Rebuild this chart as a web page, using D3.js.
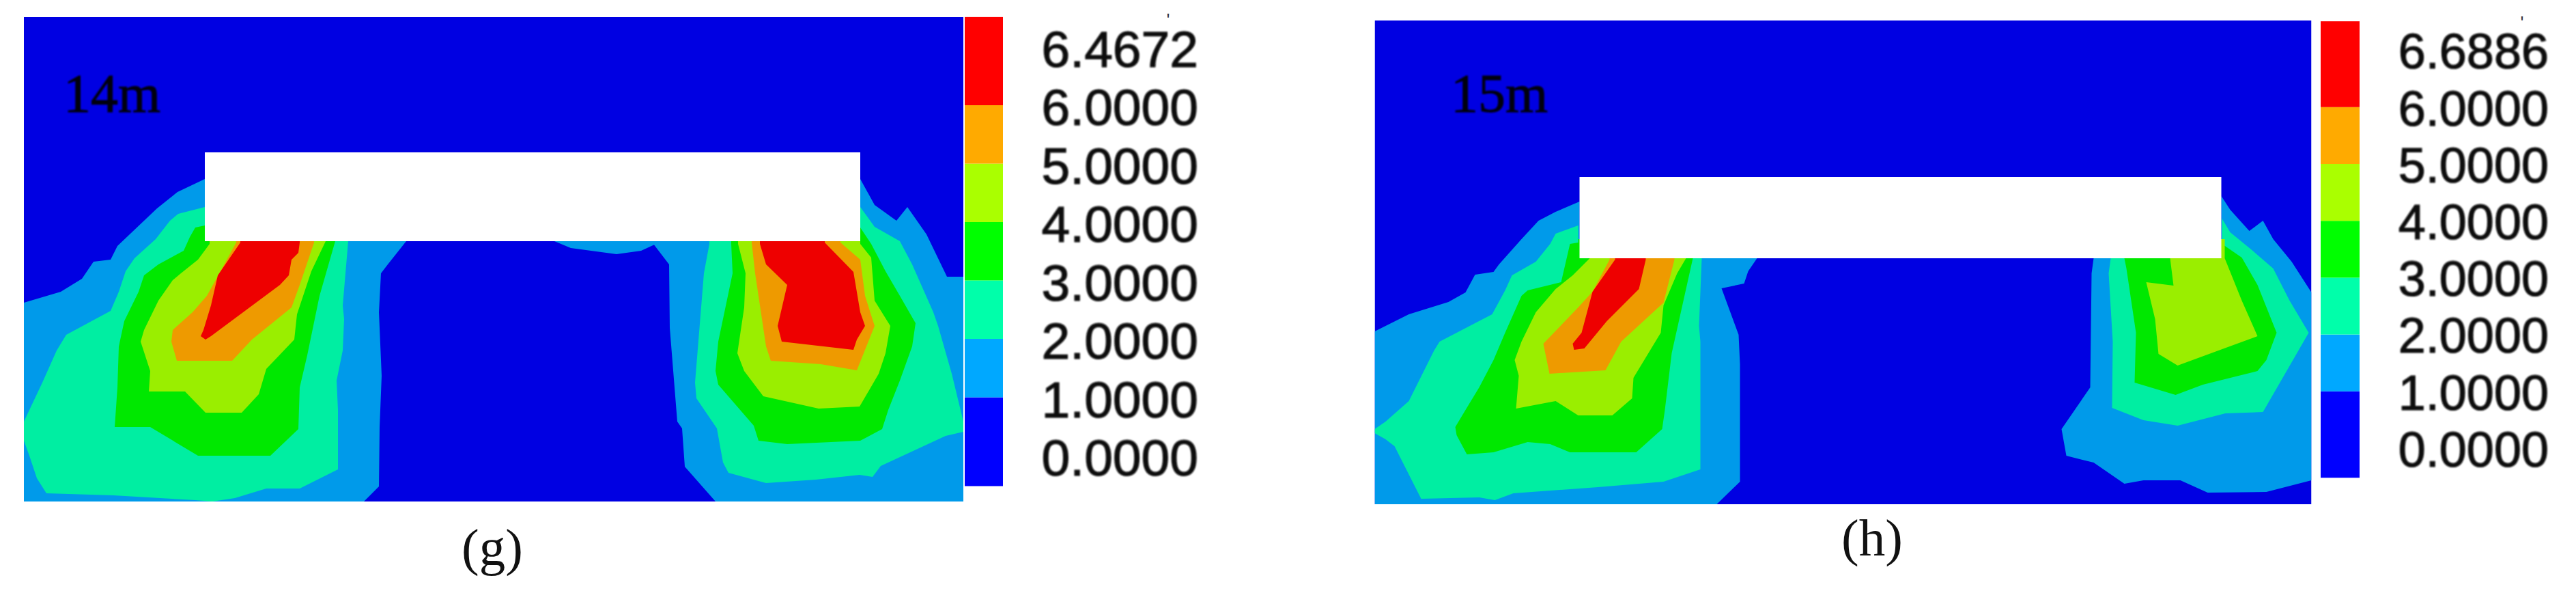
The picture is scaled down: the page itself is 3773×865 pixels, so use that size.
<!DOCTYPE html>
<html>
<head>
<meta charset="utf-8">
<script src="https://cdn.jsdelivr.net/npm/d3@7/dist/d3.min.js"></script>
<style>html,body{margin:0;padding:0;background:#fff}svg{display:block}</style>
</head>
<body>
<script>
// Contour level labels (each colour band sits between two labels)
const levels14 = ["0.0000","1.0000","2.0000","3.0000","4.0000","5.0000","6.0000","6.4672"];
const levels15 = ["0.0000","1.0000","2.0000","3.0000","4.0000","5.0000","6.0000","6.6886"];
const bandEdges = [-0.52,1,2,3,4,5,6,7.51];

// Contour regions, in panel grid units (x across, y down from the top of the panel)
const g14West1 = [[265,237],[225,256],[195,280],[137,335],[127,355],[102,358],[85,383],[54,402],[0,418],[0,709],[498,709],[520,687],[521,600],[524,525],[520,432],[523,375],[533,362],[560,328],[560,300],[265,300]];
const g14West2 = [[265,278],[226,288],[214,298],[193,325],[162,353],[149,372],[139,402],[127,430],[62,465],[48,488],[27,535],[0,592],[0,620],[8,642],[19,675],[33,697],[131,700],[251,707],[276,709],[309,704],[355,690],[404,690],[460,662],[460,575],[458,532],[467,488],[469,442],[467,422],[475,328],[475,300],[265,300]];
const g14West3 = [[265,305],[251,308],[243,322],[234,342],[197,362],[176,378],[168,402],[147,445],[139,482],[137,542],[133,600],[185,600],[255,642],[361,642],[402,603],[404,542],[415,495],[433,408],[456,328],[456,300],[265,300]];
const g14West4 = [[272,332],[255,355],[230,375],[218,385],[197,415],[176,458],[171,475],[185,518],[183,548],[236,548],[266,579],[319,579],[344,552],[355,515],[396,472],[400,435],[421,372],[442,328],[442,300],[272,300]];
const g14West5 = [[311,330],[288,372],[268,408],[247,432],[218,458],[216,475],[224,503],[305,503],[334,472],[392,425],[404,392],[425,330],[425,300],[311,300]];
const g14West6 = [[317,330],[284,378],[274,422],[263,458],[259,467],[266,472],[274,467],[375,392],[388,378],[392,355],[402,345],[404,330],[404,300],[317,300]];
const g14Mid1  = [[777,328],[801,338],[868,347],[904,342],[928,331],[928,320],[777,320]];
const g14East1 = [[1225,237],[1246,275],[1278,298],[1294,278],[1322,318],[1352,380],[1376,380],[1376,709],[1013,709],[968,658],[964,602],[957,592],[946,455],[945,362],[922,332],[922,300],[1225,300]];
const g14East2 = [[1225,278],[1246,307],[1283,328],[1301,362],[1332,432],[1339,452],[1359,522],[1376,592],[1376,607],[1350,613],[1255,657],[1243,673],[1224,670],[1160,677],[1087,682],[1032,667],[1024,652],[1015,602],[985,558],[983,535],[996,375],[1004,332],[1004,300],[1225,300]];
const g14East3 = [[1225,308],[1241,332],[1262,372],[1283,408],[1306,448],[1301,482],[1283,532],[1266,575],[1257,603],[1225,620],[1118,625],[1076,620],[1069,598],[1017,538],[1013,518],[1017,475],[1038,375],[1036,332],[1036,300],[1225,300]];
const g14East4 = [[1225,332],[1241,352],[1246,415],[1269,452],[1262,492],[1252,522],[1224,570],[1164,573],[1083,555],[1055,518],[1045,492],[1055,425],[1057,375],[1046,332],[1046,300],[1225,300]];
const g14East5 = [[1196,330],[1225,355],[1232,408],[1246,452],[1220,517],[1167,508],[1094,503],[1087,482],[1071,375],[1066,330],[1066,300],[1196,300]];
const g14East6 = [[1173,330],[1215,373],[1225,432],[1232,452],[1220,472],[1215,487],[1110,475],[1104,452],[1118,392],[1087,362],[1078,332],[1078,300],[1173,300]];

const h15West1 = [[300,265],[265,280],[240,293],[215,320],[182,357],[174,368],[147,372],[133,398],[108,412],[50,430],[16,447],[0,455],[0,708],[501,708],[535,675],[535,503],[533,460],[508,392],[541,385],[547,367],[560,348],[560,320],[300,320]];
const h15West2 = [[298,300],[265,312],[257,327],[236,353],[201,373],[191,395],[172,430],[95,470],[87,483],[50,557],[16,587],[0,598],[0,604],[16,613],[29,623],[68,700],[153,698],[176,702],[203,692],[327,683],[423,675],[477,657],[477,470],[475,447],[479,348],[479,320],[298,320]];
const h15West3 = [[298,325],[286,327],[280,353],[273,383],[224,395],[215,403],[191,457],[174,497],[153,537],[133,570],[118,595],[120,607],[135,635],[174,632],[224,617],[257,620],[286,632],[383,632],[421,598],[425,570],[435,487],[466,348],[466,320],[298,320]];
const h15West4 = [[315,348],[290,373],[265,393],[236,427],[215,470],[205,497],[211,520],[207,568],[265,557],[298,578],[348,578],[377,553],[379,523],[419,457],[423,417],[443,370],[456,348],[456,320],[315,320]];
const h15West5 = [[344,350],[319,397],[298,420],[247,473],[256,517],[338,512],[361,470],[423,413],[439,350],[439,320],[344,320]];
const h15West6 = [[352,350],[319,397],[303,457],[290,473],[292,482],[307,480],[340,440],[387,393],[397,350],[397,320],[352,320]];
const h15East1 = [[1240,257],[1253,277],[1281,308],[1301,293],[1316,320],[1343,353],[1372,398],[1372,673],[1306,690],[1220,691],[1180,673],[1126,673],[1098,678],[1053,647],[1013,637],[1006,598],[1048,537],[1050,370],[1053,348],[1053,320],[1240,320]];
const h15East2 = [[1241,290],[1253,310],[1286,337],[1316,363],[1340,410],[1368,457],[1353,483],[1301,573],[1246,575],[1176,593],[1126,585],[1080,567],[1081,470],[1075,370],[1078,348],[1078,320],[1241,320]];
const h15East3 = [[1241,327],[1270,347],[1293,387],[1321,457],[1306,497],[1293,513],[1213,533],[1173,548],[1113,530],[1115,457],[1101,363],[1098,348],[1098,320],[1241,320]];
const h15East4 = [[1165,348],[1170,388],[1130,383],[1143,437],[1148,488],[1176,505],[1293,462],[1270,410],[1245,348],[1245,320],[1165,320]];

// Styles
const fieldColors = ["#0000e2","#009aea","#00eea2","#00e800","#9aee00","#ee9a00","#ee0000"];
const barColors   = ["#0000ff","#00a8ff","#00ffaa","#00ff00","#aaff00","#ffaa00","#ff0000"];

const panels = [
  {id:"g", depth:"14m", letter:"(g)", levels:levels14, x0:35, y0:25, w:1376, h:709,
   hole:[265,198,1225,328], depthX:93, depthY:164, letterX:721, letterY:827,
   barX:1413, barW:56, barY:667, barStep:85.5, labelX:1755, labelSize:75, labelDy:3, markX:1711, markY:38,
   regions:[[1,g14West1],[1,g14Mid1],[1,g14East1],[2,g14West2],[2,g14East2],[3,g14West3],[3,g14East3],[4,g14West4],[4,g14East4],[5,g14West5],[5,g14East5],[6,g14West6],[6,g14East6]]},
  {id:"h", depth:"15m", letter:"(h)", levels:levels15, x0:2013.5, y0:30, w:1372, h:708,
   hole:[300,229,1240,348], depthX:2125, depthY:164, letterX:2742, letterY:813,
   barX:3399, barW:57, barY:656, barStep:83.2, labelX:3733, labelSize:72, labelDy:1.5, markX:3694, markY:42,
   regions:[[1,h15West1],[1,h15East1],[2,h15West2],[2,h15East2],[3,h15West3],[3,h15East3],[4,h15West4],[4,h15East4],[5,h15West5],[6,h15West6]]}
];

const svg = d3.select("body").append("svg").attr("width",3773).attr("height",865).attr("viewBox","0 0 3773 865");
svg.append("rect").attr("width",3773).attr("height",865).attr("fill","#fff");
const defs = svg.append("defs");
defs.append("filter").attr("id","soft").attr("x","-5%").attr("y","-5%").attr("width","110%").attr("height","110%")
  .append("feGaussianBlur").attr("stdDeviation",0.9);

panels.forEach(p => {
  const x = d3.scaleLinear().domain([0,p.w]).range([p.x0,p.x0+p.w]);
  const y = d3.scaleLinear().domain([0,p.h]).range([p.y0,p.y0+p.h]);
  const line = d3.line().x(d=>x(d[0])).y(d=>y(d[1])).curve(d3.curveLinearClosed);

  defs.append("clipPath").attr("id","clip-"+p.id).append("rect")
    .attr("x",x(0)).attr("y",y(0)).attr("width",p.w).attr("height",p.h);

  const field = svg.append("g").attr("class","field").attr("clip-path",`url(#clip-${p.id})`);
  field.append("rect").attr("x",x(0)).attr("y",y(0)).attr("width",p.w).attr("height",p.h).attr("fill",fieldColors[0]);
  field.selectAll("path").data(p.regions).join("path")
    .attr("d",d=>line(d[1])).attr("fill",d=>fieldColors[d[0]]);
  field.append("rect").attr("x",x(p.hole[0])).attr("y",y(p.hole[1]))
    .attr("width",x(p.hole[2])-x(p.hole[0])).attr("height",y(p.hole[3])-y(p.hole[1])).attr("fill","#fff");

  svg.append("text").text(p.depth).attr("x",p.depthX).attr("y",p.depthY)
    .attr("font-family","Liberation Serif").attr("font-size",80).attr("fill","#050510")
    .attr("stroke","#050510").attr("stroke-width",1).attr("filter","url(#soft)");
  svg.append("text").text(p.letter).attr("x",p.letterX).attr("y",p.letterY).attr("text-anchor","middle")
    .attr("font-family","Liberation Serif").attr("font-size",77).attr("fill","#111");

  // Colour bar
  const ly = d3.scaleLinear().domain([0,7]).range([p.barY,p.barY-7*p.barStep]);
  const bar = svg.append("g").attr("class","colorbar");
  bar.selectAll("rect").data(d3.pairs(bandEdges)).join("rect")
    .attr("x",p.barX).attr("width",p.barW)
    .attr("y",d=>ly(d[1])).attr("height",d=>ly(d[0])-ly(d[1]))
    .attr("fill",(d,i)=>barColors[i]);
  bar.selectAll("text").data(p.levels).join("text")
    .text(d=>d)
    .attr("x",p.labelX).attr("y",(d,i)=>ly(i)+p.labelDy).attr("dy","0.35em").attr("text-anchor","end")
    .attr("font-family","Liberation Sans").attr("font-size",p.labelSize).attr("fill","#0c0c0c")
    .attr("stroke","#0c0c0c").attr("stroke-width",1.2).attr("filter","url(#soft)");
  svg.append("text").text("'").attr("x",p.markX).attr("y",p.markY).attr("text-anchor","middle")
    .attr("font-family","Liberation Sans").attr("font-size",26).attr("fill","#333");
});
</script>
</body>
</html>
